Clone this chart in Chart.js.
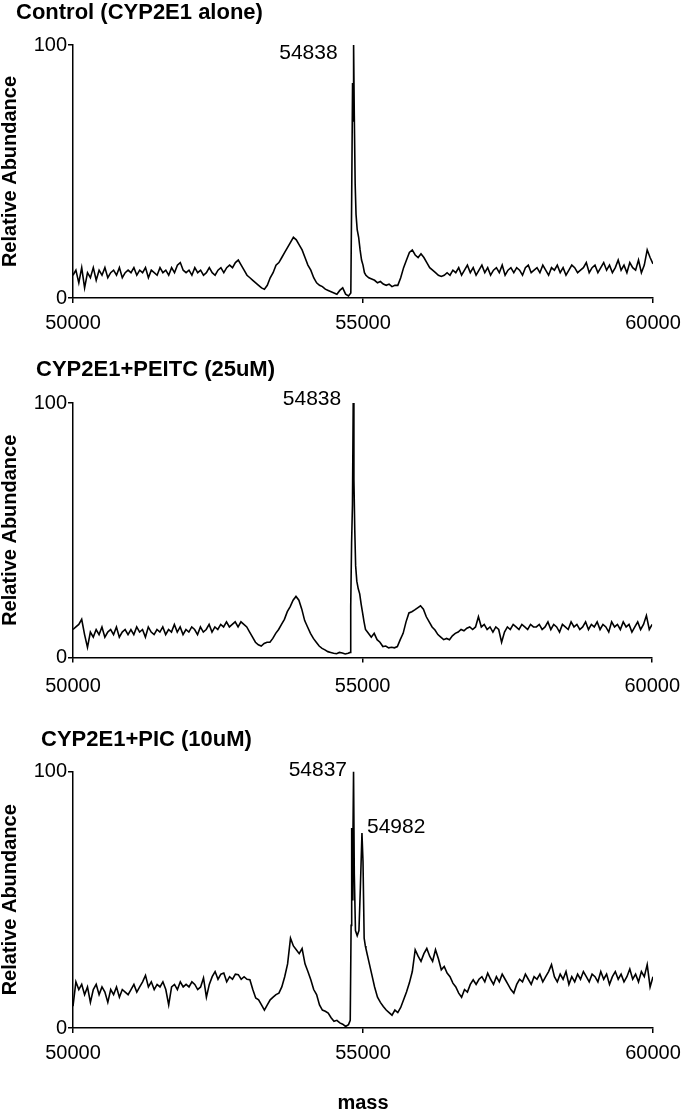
<!DOCTYPE html>
<html>
<head>
<meta charset="utf-8">
<script src="https://cdn.jsdelivr.net/npm/chart.js@4.4.1/dist/chart.umd.min.js"></script>
<style>
  html, body { margin: 0; padding: 0; background: #fff; }
  #wrap { position: relative; width: 692px; height: 1114px; }
  canvas { position: absolute; left: 0; }
</style>
</head>
<body>
<div id="wrap">
  <canvas id="p1" width="692" height="340" style="top:0px"></canvas>
  <canvas id="p2" width="692" height="360" style="top:340px"></canvas>
  <canvas id="p3" width="692" height="414" style="top:700px"></canvas>
</div>
<script>
// mass grid of the deconvoluted spectra (Da)
const massStart = 50000;
const massStep = 50;
const xTicks = [50000, 55000, 60000];
const yTicks = [0, 100];

// Control (CYP2E1 alone) - relative abundance on the 50 Da grid, null = covered by the peak arrays
const controlGrid = [
  9, 11, 6, 12, 4, 10, 8, 12, 7, 11, 9, 12, 8, 10, 11, 9, 12, 8, 10, 11,
  10, 12, 9, 11, 10, 12, 8, 11, 10, 9, 12, 10, 11, 9, 12, 10, 13, 14, 11, 10,
  11, 9, 12, 10, 11, 9, 10, 12, 10, 9, 11, 12, 10, 12, 13, 12, 14, 15, 13, 11,
  9, 8, 7, 6, 5, 4, 3.5, 5, 8, 10, 13, 14, 16, 18, 20, 22, 24, 23, 21, 19,
  16, 13, 11, 8, 6, 5, 4.5, 3.5, 3, 2.5, 2, 1.5, 3, 4, 1.5, 0.8, null, null, null, null,
  null, 9, 8, 7.5, 7, 6, 6.5, 5.5, 5, 5.5, 4.5, 5, 5, 8, 12, 15, 18, 19, 17, 16,
  17.5, 16, 14, 12, 11, 10, 9, 8.5, 9, 10, 9, 11, 10, 12, 9, 11, 13, 10, 12, 9,
  11, 13, 10, 12, 9, 11, 12, 10, 13, 9, 11, 12, 10, 12, 11, 9, 12, 13, 10, 11,
  12, 10, 13, 11, 9, 12, 11, 13, 10, 12, 9, 11, 13, 12, 10, 11, 12, 14, 10, 12,
  13, 10, 12, 14, 11, 13, 10, 12, 15, 11, 13, 10, 14, 12, 11, 15, 10, 13, 19, 16,
  13.5
];
const controlPeakMass = [54790, 54805, 54820, 54830, 54838, 54850, 54865, 54880, 54900, 54925, 54950, 54975, 55000, 55025];
const controlPeakAbund = [2, 40, 85, 70, 100, 72, 45, 33, 27, 24, 19, 15, 13, 10];
const controlLabelMass = [54838];
const controlLabelAbund = [100];

// CYP2E1 + PEITC (25uM)
const peitcGrid = [
  11, 12, 13, 15, 9, 4, 10, 8, 11, 9, 12, 8, 10, 11, 9, 12, 8, 10, 11, 9,
  11, 9, 12, 10, 11, 8, 12, 10, 9, 11, 10, 12, 9, 11, 10, 13, 10, 12, 9, 11,
  10, 12, 11, 9, 12, 10, 11, 13, 10, 12, 11, 13, 12, 14, 12, 13, 14, 12, 14, 13,
  12, 10, 8, 6, 5, 4.5, 5.5, 6, 6, 7.5, 9.5, 11, 13, 15, 18, 20, 22.5, 24, 22.5, 19,
  14.5, 12, 9.5, 7.5, 6, 4.5, 3.6, 3, 2.3, 2, 1.7, 1.5, 2, 1.8, 1.4, 1.7, null, null, null, null,
  null, 11, 9.5, 8, 9.5, 7, 6, 4.3, 4.5, 3.8, 4, 3.8, 4.3, 7, 9.5, 14, 17.5, 18, 18.7, 19.5,
  20.3, 19, 16, 14, 12, 10.8, 9, 8, 7, 7.5, 7, 8.5, 9.5, 10, 11, 10.5, 11.5, 12, 11, 12,
  16, 12, 13, 11, 12, 10, 12, 11, 6, 10, 12, 11, 13, 12, 11, 13, 12, 11, 13, 12,
  12, 13, 11, 12, 14, 11, 13, 12, 10, 13, 12, 11, 14, 12, 13, 11, 12, 14, 11, 13,
  12, 14, 11, 13, 12, 10, 14, 12, 13, 11, 14, 12, 13, 10, 12, 14, 11, 13, 16.5, 11,
  13
];
const peitcPeakMass = [54785, 54795, 54810, 54825, 54838, 54850, 54865, 54880, 54900, 54925, 54950, 54975, 55000, 55025];
const peitcPeakAbund = [2, 20, 45, 60, 100, 70, 50, 36, 30, 27, 25, 21, 17.5, 14];
const peitcLabelMass = [54838];
const peitcLabelAbund = [100];

// CYP2E1 + PIC (10uM)
const picGrid = [
  8.5, 18, 15, 17, 13, 16, 10, 15, 17, 13, 16, 14, 10, 15, 13, 16, 12, 15, 14, 13,
  15, 17, 14, 16, 18, 20.5, 16, 18, 15, 17, 16, 18, 15, 9, 16, 17, 15, 18, 16, 17,
  16, 18, 17, 15, 16, 19.5, 12, 17, 20, 22, 19, 21, 21.4, 18, 20, 19, 21, 20.8, 19, 20,
  19, 18.8, 15, 11.7, 11, 9, 7, 9, 11, 12, 13, 13.6, 16, 20, 25, 35, 32, 30.5, 29, 31,
  25, 22, 18.8, 15, 13, 9, 7, 6.5, 5.8, 4, 2.6, 3, 2, 1.5, 0.6, 1.3, null, null, null, null,
  null, 31, 26, 21, 16, 12, 10, 8.4, 7, 6, 5, 7, 6, 8, 11, 14, 17.6, 22, 30.5, 28,
  26, 29, 31, 28, 26, 30.5, 27, 22.7, 24, 21.4, 20, 17.5, 16, 13.6, 12, 15, 14, 17, 18.8, 17,
  19, 20, 18, 21.4, 19, 17, 20, 18, 21, 19, 17, 15, 13.6, 17, 19, 18, 21, 19, 17, 20,
  19, 21, 18, 20, 22, 24.7, 20, 18, 21, 19, 22, 17, 20, 18, 21, 19, 22, 20, 18, 21,
  20, 18, 22, 19, 21, 17, 20, 22, 19, 21, 18, 20, 23, 19, 21, 18, 22, 20, 24.7, 16,
  20
];
const picPeakMass = [54780, 54795, 54805, 54815, 54825, 54837, 54850, 54870, 54900, 54930, 54955, 54982, 55000, 55020, 55040];
const picPeakAbund = [3, 40, 78, 50, 70, 100, 60, 38, 36, 38, 55, 76, 65, 35, 32];
const picLabelMass = [54837, 54982];
const picLabelAbund = [100, 76];

const FONT = '"Liberation Sans", Arial, sans-serif';

function spectrum(grid, peakMass, peakAbund) {
  const pts = [];
  grid.forEach((v, i) => {
    if (v !== null) pts.push({ x: massStart + i * massStep, y: v });
  });
  peakMass.forEach((m, i) => pts.push({ x: m, y: peakAbund[i] }));
  return pts.sort((a, b) => a.x - b.x);
}

function textPlugin(cfg) {
  return {
    id: 'panelText',
    afterDraw(chart) {
      const ctx = chart.ctx;
      const xs = chart.scales.x, ys = chart.scales.y;
      ctx.save();
      ctx.fillStyle = '#000';
      ctx.textBaseline = 'middle';
      ctx.textAlign = 'left';
      ctx.font = 'bold 22px ' + FONT;
      ctx.fillText(cfg.title, cfg.titleX, cfg.titleY);
      ctx.font = '21px ' + FONT;
      cfg.labelMass.forEach((m, i) => {
        const st = cfg.labelStyle[i];
        ctx.textAlign = st.align;
        ctx.fillText(String(m), xs.getPixelForValue(m) + st.dx, ys.getPixelForValue(cfg.labelAbund[i]) + st.dy);
      });
      ctx.restore();
    }
  };
}

function makePanel(id, cfg) {
  const axisLine = { display: true, color: '#000', width: 1.5 };
  return new Chart(document.getElementById(id), {
    type: 'line',
    data: {
      datasets: [{
        data: spectrum(cfg.grid, cfg.peakMass, cfg.peakAbund),
        borderColor: '#000',
        borderWidth: 1.6,
        pointRadius: 0,
        tension: 0,
        fill: false
      }]
    },
    options: {
      responsive: false,
      animation: false,
      layout: { autoPadding: false, padding: { top: cfg.top, right: 39, left: 0, bottom: 0 } },
      plugins: { legend: { display: false }, tooltip: { enabled: false }, title: { display: false } },
      scales: {
        x: {
          type: 'linear',
          min: 50000,
          max: 60000,
          afterBuildTicks: s => { s.ticks = xTicks.map(v => ({ value: v })); },
          afterFit: s => { s.height = cfg.xHeight; },
          border: axisLine,
          grid: { drawOnChartArea: false, drawTicks: true, tickLength: 5, color: '#000', lineWidth: 1.5 },
          ticks: { color: '#000', font: { family: FONT, size: 20 }, padding: cfg.tickPad, maxRotation: 0, callback: v => String(v) },
          title: {
            display: cfg.showMass,
            text: 'mass',
            color: '#000',
            font: { family: FONT, size: 20, weight: 'bold', lineHeight: 1 },
            padding: { top: 0, bottom: 1 }
          }
        },
        y: {
          min: 0,
          max: 100,
          afterBuildTicks: s => { s.ticks = yTicks.map(v => ({ value: v })); },
          afterFit: s => { s.width = 73; },
          border: axisLine,
          grid: { drawOnChartArea: false, drawTicks: true, tickLength: 5, color: '#000', lineWidth: 1.5 },
          ticks: { color: '#000', font: { family: FONT, size: 20 }, padding: 1 },
          title: {
            display: true,
            text: 'Relative Abundance',
            color: '#000',
            font: { family: FONT, size: 20, weight: 'bold', lineHeight: 1 },
            padding: { top: 0, bottom: 0 }
          }
        }
      }
    },
    plugins: [textPlugin(cfg)]
  });
}

makePanel('p1', {
  grid: controlGrid, peakMass: controlPeakMass, peakAbund: controlPeakAbund,
  labelMass: controlLabelMass, labelAbund: controlLabelAbund,
  labelStyle: [{ align: 'right', dx: -16, dy: 8.5 }],
  title: 'Control (CYP2E1 alone)', titleX: 16, titleY: 13,
  top: 45, xHeight: 42, tickPad: 8, showMass: false
});

makePanel('p2', {
  grid: peitcGrid, peakMass: peitcPeakMass, peakAbund: peitcPeakAbund,
  labelMass: peitcLabelMass, labelAbund: peitcLabelAbund,
  labelStyle: [{ align: 'right', dx: -12, dy: -3.5 }],
  title: 'CYP2E1+PEITC (25uM)', titleX: 36, titleY: 30,
  top: 63, xHeight: 42.5, tickPad: 12, showMass: false
});

makePanel('p3', {
  grid: picGrid, peakMass: picPeakMass, peakAbund: picPeakAbund,
  labelMass: picLabelMass, labelAbund: picLabelAbund,
  labelStyle: [{ align: 'right', dx: -6.5, dy: -1.5 }, { align: 'left', dx: 5, dy: -5.5 }],
  title: 'CYP2E1+PIC (10uM)', titleX: 41, titleY: 40,
  top: 71.5, xHeight: 86, tickPad: 8, showMass: true
});
</script>
</body>
</html>
